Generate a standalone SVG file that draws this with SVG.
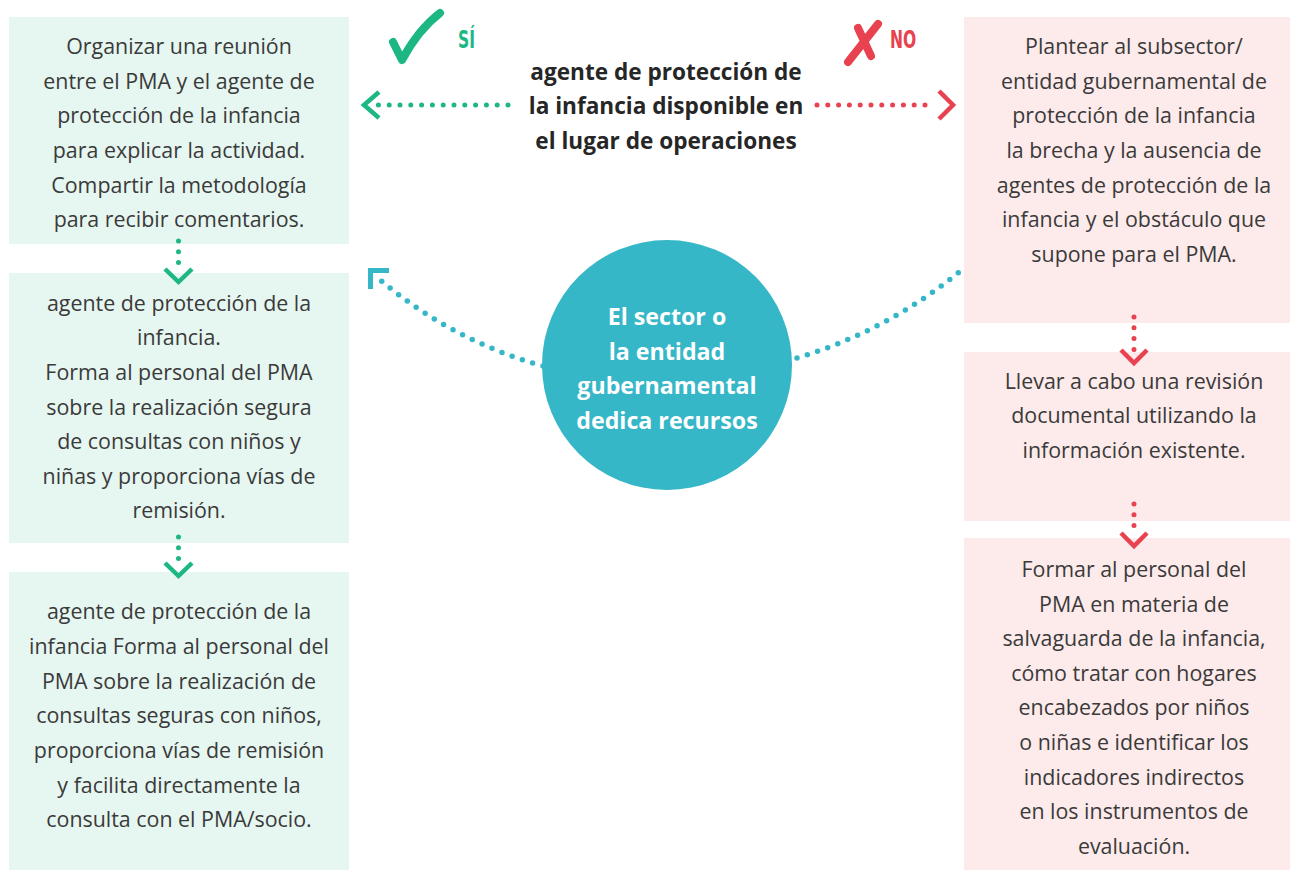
<svg xmlns="http://www.w3.org/2000/svg" width="1290" height="870" viewBox="0 0 1290 870">
<style>
.box-g{fill:#e6f6f0}
.box-r{fill:#fdeaeb}
.t{font-family:"Open Sans","Liberation Sans",sans-serif;font-size:21.4px;fill:#3a3a3a;text-anchor:middle}
.tb{font-family:"Open Sans","Liberation Sans",sans-serif;font-size:22.6px;font-weight:bold;fill:#262626;text-anchor:middle}
.tc{font-family:"Open Sans","Liberation Sans",sans-serif;font-size:23.2px;font-weight:bold;fill:#ffffff;text-anchor:middle}
.dot-g{fill:none;stroke:#1db784;stroke-width:5;stroke-linecap:round;stroke-dasharray:0 10.8}
.dot-r{fill:none;stroke:#e8414f;stroke-width:5;stroke-linecap:round;stroke-dasharray:0 10.8}
.dot-t{fill:none;stroke:#36b7c7;stroke-width:5.5;stroke-linecap:round;stroke-dasharray:0 10.8}
.chev-g{fill:none;stroke:#1db784;stroke-width:4.5}
.chev-r{fill:none;stroke:#e8414f;stroke-width:4.5}
.chev-t{fill:none;stroke:#36b7c7;stroke-width:5}
.lbl{font-family:"DejaVu Sans Condensed","Roboto",sans-serif;font-weight:bold;font-size:24px}
</style>

<g id="left-1">
<rect class="box-g" x="9" y="17" width="340" height="227"/>
<text class="t"><tspan x="179" y="54">Organizar una reunión</tspan><tspan x="179" y="89">entre el PMA y el agente de</tspan><tspan x="179" y="123">protección de la infancia</tspan><tspan x="179" y="158">para explicar la actividad.</tspan><tspan x="179" y="193">Compartir la metodología</tspan><tspan x="179" y="227">para recibir comentarios.</tspan></text>
</g>
<g id="left-2">
<rect class="box-g" x="9" y="273" width="340" height="270"/>
<text class="t"><tspan x="179" y="311">agente de protección de la</tspan><tspan x="179" y="345">infancia.</tspan><tspan x="179" y="380">Forma al personal del PMA</tspan><tspan x="179" y="415">sobre la realización segura</tspan><tspan x="179" y="449">de consultas con niños y</tspan><tspan x="179" y="484">niñas y proporciona vías de</tspan><tspan x="179" y="518">remisión.</tspan></text>
</g>
<g id="left-3">
<rect class="box-g" x="9" y="572" width="340" height="298"/>
<text class="t"><tspan x="179" y="619">agente de protección de la</tspan><tspan x="179" y="654">infancia Forma al personal del</tspan><tspan x="179" y="689">PMA sobre la realización de</tspan><tspan x="179" y="723">consultas seguras con niños,</tspan><tspan x="179" y="758">proporciona vías de remisión</tspan><tspan x="179" y="793">y facilita directamente la</tspan><tspan x="179" y="827">consulta con el PMA/socio.</tspan></text>
</g>

<g id="right-1">
<rect class="box-r" x="964" y="17" width="326" height="306"/>
<text class="t"><tspan x="1134" y="54">Plantear al subsector/</tspan><tspan x="1134" y="89">entidad gubernamental de</tspan><tspan x="1134" y="123">protección de la infancia</tspan><tspan x="1134" y="158">la brecha y la ausencia de</tspan><tspan x="1134" y="193">agentes de protección de la</tspan><tspan x="1134" y="227">infancia y el obstáculo que</tspan><tspan x="1134" y="262">supone para el PMA.</tspan></text>
</g>
<g id="right-2">
<rect class="box-r" x="964" y="352" width="326" height="169"/>
<text class="t"><tspan x="1134" y="389">Llevar a cabo una revisión</tspan><tspan x="1134" y="423">documental utilizando la</tspan><tspan x="1134" y="458">información existente.</tspan></text>
</g>
<g id="right-3">
<rect class="box-r" x="964" y="538" width="326" height="332"/>
<text class="t"><tspan x="1134" y="577">Formar al personal del</tspan><tspan x="1134" y="612">PMA en materia de</tspan><tspan x="1134" y="646">salvaguarda de la infancia,</tspan><tspan x="1134" y="681">cómo tratar con hogares</tspan><tspan x="1134" y="715">encabezados por niños</tspan><tspan x="1134" y="750">o niñas e identificar los</tspan><tspan x="1134" y="785">indicadores indirectos</tspan><tspan x="1134" y="819">en los instrumentos de</tspan><tspan x="1134" y="854">evaluación.</tspan></text>
</g>

<g id="question">
<text class="tb"><tspan x="666" y="80">agente de protección de</tspan><tspan x="666" y="114">la infancia disponible en</tspan><tspan x="666" y="149">el lugar de operaciones</tspan></text>
</g>

<g id="yes-label">
<path d="M393,42 L402,60 Q418,30 440,13" fill="none" stroke="#1db784" stroke-width="8" stroke-linecap="round" stroke-linejoin="round"/>
<text class="lbl" fill="#1db784" x="458" y="48" transform="translate(458 48) scale(0.72 1) translate(-458 -48)">SÍ</text>
</g>
<g id="no-label">
<path d="M878,24 L848,62 M858,28 L871,56" fill="none" stroke="#e8414f" stroke-width="8" stroke-linecap="round"/>
<text class="lbl" fill="#e8414f" x="890" y="48" transform="translate(890 48) scale(0.72 1) translate(-890 -48)">NO</text>
</g>

<g id="center">
<circle cx="667" cy="365" r="125" fill="#36b7c7"/>
<text class="tc"><tspan x="667" y="325">El sector o</tspan><tspan x="667" y="360">la entidad</tspan><tspan x="667" y="394">gubernamental</tspan><tspan x="667" y="429">dedica recursos</tspan></text>
</g>

<g id="connectors">
<path class="dot-g" d="M508,105 H375"/>
<polyline class="chev-g" points="379,92 364,105 379,118"/>
<path class="dot-r" d="M817,105 H935"/>
<polyline class="chev-r" points="939,91 953,105 939,119"/>

<path class="dot-g" d="M178.5,241 V272"/>
<polyline class="chev-g" points="165,269 178.5,282 192,269"/>
<path class="dot-g" d="M178.5,537 V563"/>
<polyline class="chev-g" points="165,563 178.5,576 192,563"/>

<path class="dot-r" d="M1134,317 V353"/>
<polyline class="chev-r" points="1121,350 1134,363 1147,350"/>
<path class="dot-r" d="M1134,504 V536"/>
<polyline class="chev-r" points="1121,533 1134,546 1147,533"/>

<path class="dot-t" d="M543,366 Q450,340 378,278"/>
<polyline class="chev-t" points="370.5,289 370.5,270.5 389,270.5"/>
<path class="dot-t" d="M797,358 Q890,330 964,268"/>
</g>
</svg>
